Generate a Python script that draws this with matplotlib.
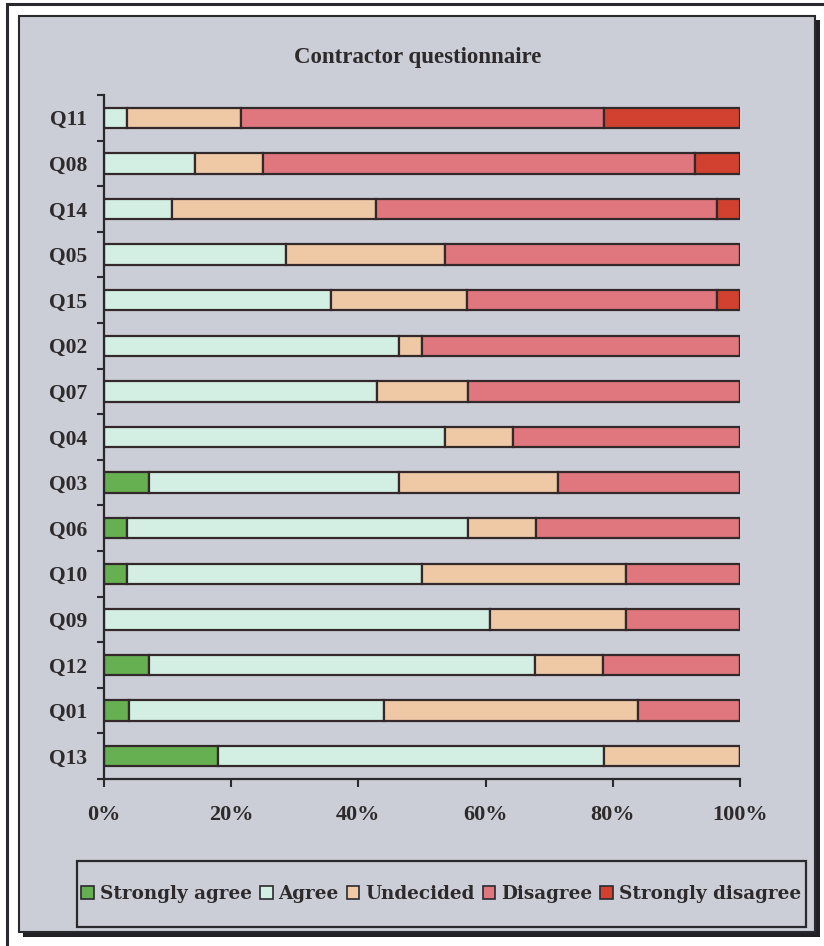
import numpy as np
import matplotlib
matplotlib.use("Agg")
import matplotlib.pyplot as plt
from matplotlib.patches import Rectangle, Patch

# questions, bottom to top as drawn
questions = ["Q13", "Q01", "Q12", "Q09", "Q10", "Q06", "Q03", "Q04",
             "Q07", "Q02", "Q15", "Q05", "Q14", "Q08", "Q11"]

# percentages
strongly_agree = [17.9, 4.0, 7.1, 0.0, 3.6, 3.6, 7.1, 0.0,
                  0.0, 0.0, 0.0, 0.0, 0.0, 0.0, 0.0]
agree = [60.7, 40.0, 60.7, 60.7, 46.4, 53.6, 39.3, 53.6,
         42.9, 46.4, 35.7, 28.6, 10.7, 14.3, 3.6]
undecided = [21.4, 40.0, 10.7, 21.4, 32.1, 10.7, 25.0, 10.7,
             14.3, 3.6, 21.4, 25.0, 32.1, 10.7, 17.9]
disagree = [0.0, 16.0, 21.5, 17.9, 17.9, 32.1, 28.6, 35.7,
            42.8, 50.0, 39.3, 46.4, 53.6, 67.9, 57.1]
strongly_disagree = [0.0, 0.0, 0.0, 0.0, 0.0, 0.0, 0.0, 0.0,
                     0.0, 0.0, 3.6, 0.0, 3.6, 7.1, 21.4]

series_names = ["Strongly agree", "Agree", "Undecided", "Disagree", "Strongly disagree"]
colors = ["#66b052", "#d3efe3", "#efc9a6", "#e0767e", "#d2412f"]

W, H = 824, 946
panel_bg = "#cbced6"
ink = "#2e2a2c"
serif = ["Liberation Serif", "DejaVu Serif"]
plt.rcParams["font.family"] = serif
plt.rcParams["font.weight"] = "bold"


def fx(px):
    return px / W


def fy(py):
    return 1 - py / H


fig = plt.figure(figsize=(W / 100, H / 100), dpi=100, facecolor="white")

# outer frame line
fig.patches.append(Rectangle((fx(7), fy(950)), fx(830) - fx(7), fy(4) - fy(950),
                             transform=fig.transFigure, fill=False,
                             edgecolor="#2a2a2e", linewidth=2.2, zorder=-3))
# panel shadow + panel
fig.patches.append(Rectangle((fx(23), fy(937)), fx(820) - fx(23), fy(20) - fy(937),
                             transform=fig.transFigure, facecolor="#222226",
                             edgecolor="none", zorder=-2))
fig.patches.append(Rectangle((fx(19), fy(932)), fx(815) - fx(19), fy(16) - fy(932),
                             transform=fig.transFigure, facecolor=panel_bg,
                             edgecolor="#2a2a2e", linewidth=1.5, zorder=-1))
# legend box
fig.patches.append(Rectangle((fx(77), fy(927)), fx(806) - fx(77), fy(861) - fy(927),
                             transform=fig.transFigure, fill=False,
                             edgecolor="#2a2a2e", linewidth=1.6, zorder=1))

ax = fig.add_axes([fx(104), fy(779), fx(740) - fx(104), fy(95) - fy(779)])
ax.set_facecolor("none")
ax.set_zorder(2)

y = np.arange(len(questions))
data = [strongly_agree, agree, undecided, disagree, strongly_disagree]
left = np.zeros(len(questions))
for name, vals, col in zip(series_names, data, colors):
    vals = np.array(vals)
    ax.barh(y, vals, left=left, height=0.45, color=col,
            edgecolor="#33282a", linewidth=1.6, label=name)
    left += vals

ax.set_xlim(0, 100)
ax.set_ylim(-0.5, len(questions) - 0.5)
ax.set_xticks(np.arange(0, 101, 20))
ax.set_xticklabels([f"{v}%" for v in range(0, 101, 20)], fontsize=16,
                   fontweight="bold", color=ink)
ax.set_yticks(y)
ax.set_yticklabels(questions, fontsize=15.5, fontweight="bold", color=ink)
ax.set_yticks(np.arange(-0.5, len(questions)), minor=True)
ax.tick_params(axis="y", which="major", length=0, pad=12)
ax.tick_params(axis="y", which="minor", length=5, width=1.5, color="#2a2a2e")
ax.tick_params(axis="x", length=6, width=1.5, color="#2a2a2e", pad=13)
for s in ["top", "right"]:
    ax.spines[s].set_visible(False)
for s in ["left", "bottom"]:
    ax.spines[s].set_color("#2a2a2e")
    ax.spines[s].set_linewidth(1.6)

fig.text(fx(418), fy(58), "Contractor questionnaire", ha="center", va="center",
         fontsize=16.5, fontweight="bold", color=ink)

handles = [Patch(facecolor=c, edgecolor="#2a2a2e", linewidth=1.2) for c in colors]
leg = fig.legend(handles, series_names, loc="center", ncol=5,
                 bbox_to_anchor=(fx(441), fy(894)),
                 frameon=False,
                 prop={"family": ["DejaVu Serif"], "weight": "bold", "size": 13.2},
                 handlelength=0.7, handleheight=0.7, handletextpad=0.3,
                 columnspacing=0.45, borderpad=0.2, borderaxespad=0)
for t in leg.get_texts():
    t.set_color(ink)

fig.savefig("out.png", dpi=100, facecolor="white")
